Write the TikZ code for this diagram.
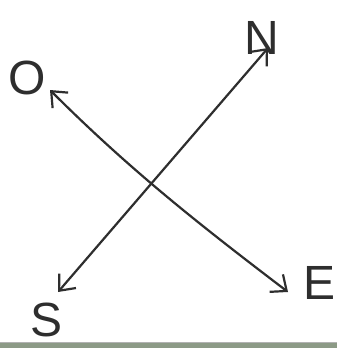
\documentclass[tikz,border=0pt]{standalone}
\usepackage{fontspec}
\setmainfont{Liberation Sans}
\usetikzlibrary{arrows.meta}
\definecolor{ink}{HTML}{2E2E2E}
\definecolor{strip}{HTML}{8C9A86}
\begin{document}
\begin{tikzpicture}[x=1pt,y=-1pt,
  lbl/.style={text=ink,font=\fontsize{48}{48}\selectfont,inner sep=0pt},
  dirarrow/.style={draw=ink,line width=2.2pt,line cap=round,
    {Straight Barb[length=13pt,width=22pt,line width=2.2pt]}-{Straight Barb[length=13pt,width=22pt,line width=2.2pt]}}]
\useasboundingbox (0,0) rectangle (337,348);
\fill[white] (0,0) rectangle (337,348);
\fill[strip] (0,343) rectangle (337,348);
\draw[gray!60,line width=0.8pt] (0,342.5) -- (337,342.5);
% labels
\node[lbl] (lN) at (262,38) {N};
\node[lbl] (lO) at (27,78) {O};
\node[lbl] (lS) at (47,320) {S};
\node[lbl] (lE) at (320,283) {E};
% arrow ends
\coordinate (s) at (58,292);
\coordinate (n) at (268,48);
\coordinate (o) at (50,90);
\coordinate (e) at (288,292);
\draw[dirarrow] (s) -- (n);
\draw[dirarrow] (o) .. controls (130,170) and (200,225) .. (e);
\end{tikzpicture}
\end{document}
